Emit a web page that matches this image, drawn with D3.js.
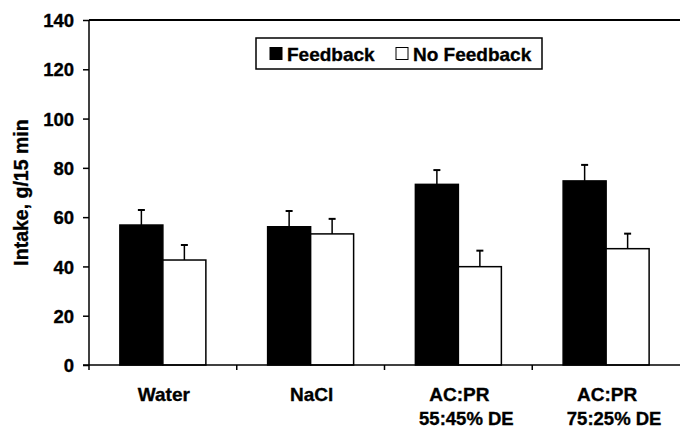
<!DOCTYPE html>
<html>
<head>
<meta charset="utf-8">
<script src="https://cdn.jsdelivr.net/npm/d3@7"></script>
<style>
  body { margin: 0; background: #fff; }
  svg { display: block; }
  text { font-family: "Liberation Sans", Arial, sans-serif; font-weight: bold; fill: #000; stroke: #000; stroke-width: 0.35px; }
</style>
</head>
<body>
<svg id="chart" width="680" height="429"></svg>
<script>
const categories = ["Water", "NaCl", "AC:PR", "AC:PR"];
const subLabels = ["", "", "55:45% DE", "75:25% DE"];
const seriesNames = ["Feedback", "No Feedback"];
const feedback = [56.8, 56.1, 73.3, 74.7];
const feedbackErr = [6.1, 6.4, 5.8, 6.5];
const noFeedback = [42.6, 53.2, 39.9, 47.2];
const noFeedbackErr = [6.1, 6.1, 6.5, 6.1];
const yTicks = [0, 20, 40, 60, 80, 100, 120, 140];

const svg = d3.select("#chart");
const mLeft = 89, mRight = 680, mTop = 20, mBottom = 365;

const idx = categories.map((d, i) => i);
const x0 = d3.scaleBand().domain(idx).range([mLeft, mRight]).paddingInner(0.418).paddingOuter(0.209);
const x1 = d3.scaleBand().domain([0, 1]).range([0, x0.bandwidth()]);
const y = d3.scaleLinear().domain([0, 140]).range([mBottom, mTop]);

const series = [
  { name: seriesNames[0], values: feedback, err: feedbackErr, fill: "#000" },
  { name: seriesNames[1], values: noFeedback, err: noFeedbackErr, fill: "#fff" }
];

// top border
svg.append("line").attr("x1", mLeft).attr("x2", mRight).attr("y1", mTop).attr("y2", mTop)
  .attr("stroke", "#000").attr("stroke-width", 2);

// bars
series.forEach((s, si) => {
  const g = svg.append("g");
  g.selectAll("rect").data(s.values).join("rect")
    .attr("x", (d, i) => x0(i) + x1(si))
    .attr("y", d => y(d))
    .attr("width", x1.bandwidth())
    .attr("height", d => y(0) - y(d))
    .attr("fill", s.fill)
    .attr("stroke", "#000").attr("stroke-width", 1.5);
  g.selectAll("line.err").data(s.values).join("line").attr("class", "err")
    .attr("x1", (d, i) => x0(i) + x1(si) + x1.bandwidth() / 2)
    .attr("x2", (d, i) => x0(i) + x1(si) + x1.bandwidth() / 2)
    .attr("y1", d => y(d))
    .attr("y2", (d, i) => y(d + s.err[i]))
    .attr("stroke", "#000").attr("stroke-width", 1.5);
  g.selectAll("line.cap").data(s.values).join("line").attr("class", "cap")
    .attr("x1", (d, i) => x0(i) + x1(si) + x1.bandwidth() / 2 - 3.5)
    .attr("x2", (d, i) => x0(i) + x1(si) + x1.bandwidth() / 2 + 3.5)
    .attr("y1", (d, i) => y(d + s.err[i]))
    .attr("y2", (d, i) => y(d + s.err[i]))
    .attr("stroke", "#000").attr("stroke-width", 2);
});

// y axis
const yAxis = d3.axisLeft(y).tickValues(yTicks).tickSize(6).tickPadding(9).tickSizeOuter(0);
const ya = svg.append("g").attr("transform", `translate(${mLeft},0)`).call(yAxis);
ya.select(".domain").attr("stroke-width", 1.5).attr("d", `M0,${mTop}V${mBottom + 5}`);
ya.selectAll(".tick line").attr("stroke-width", 1.5);
ya.selectAll(".tick text").style("font-size", "18.5px").style("font-family", "Liberation Sans, Arial, sans-serif")
  .style("font-weight", "bold").attr("dy", "0.36em").attr("stroke", "#000").attr("stroke-width", 0.35);

// x axis line
svg.append("line").attr("x1", mLeft - 6).attr("x2", mRight).attr("y1", mBottom).attr("y2", mBottom)
  .attr("stroke", "#000").attr("stroke-width", 1.5);
idx.slice(1).forEach(i => {
  const bx = x0(i) - (x0.step() - x0.bandwidth()) / 2;
  svg.append("line").attr("x1", bx).attr("x2", bx).attr("y1", mBottom).attr("y2", mBottom + 5)
    .attr("stroke", "#000").attr("stroke-width", 1.5);
});

// x labels
svg.append("g").selectAll("text").data(categories).join("text")
  .attr("x", (d, i) => x0(i) + x0.bandwidth() / 2 + 1)
  .attr("y", 401)
  .attr("text-anchor", "middle")
  .style("font-size", "19px")
  .text(d => d);
svg.append("g").selectAll("text").data(subLabels).join("text")
  .attr("x", (d, i) => x0(i) + x0.bandwidth() / 2 + 8)
  .attr("y", 425)
  .attr("text-anchor", "middle")
  .style("font-size", "18.5px")
  .text(d => d);

// y label
svg.append("text")
  .attr("transform", "translate(27.5,192.5) rotate(-90)")
  .attr("text-anchor", "middle")
  .style("font-size", "19.5px")
  .text("Intake, g/15 min");

// legend
const lg = svg.append("g");
lg.append("rect").attr("x", 256).attr("y", 38).attr("width", 286).attr("height", 31)
  .attr("fill", "#fff").attr("stroke", "#000").attr("stroke-width", 1.5);
const legendPos = [270, 396];
series.forEach((s, si) => {
  lg.append("rect").attr("x", legendPos[si]).attr("y", 47.5).attr("width", 12).attr("height", 12)
    .attr("fill", s.fill).attr("stroke", "#000").attr("stroke-width", 1);
  lg.append("text").attr("x", legendPos[si] + 17).attr("y", 60.5)
    .style("font-size", "19px").text(s.name);
});
</script>
</body>
</html>
